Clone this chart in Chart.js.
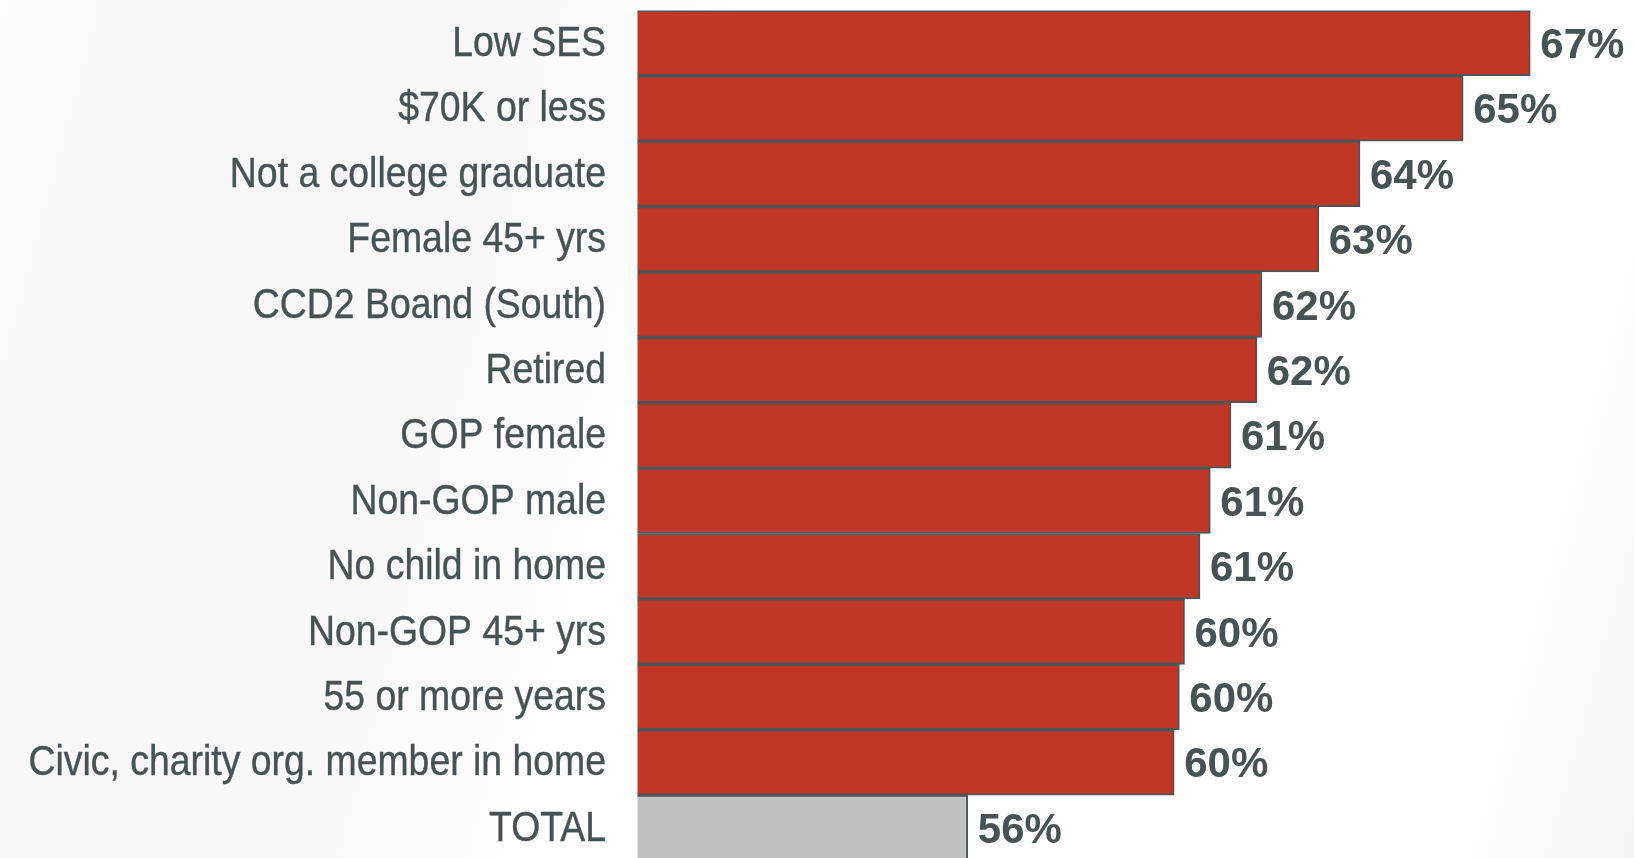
<!DOCTYPE html>
<html>
<head>
<meta charset="utf-8">
<script src="https://cdn.jsdelivr.net/npm/chart.js@4/dist/chart.umd.min.js"></script>
<style>
  html, body { margin: 0; padding: 0; overflow: hidden; background: #fff; }
  #wrap { position: relative; width: 1634px; height: 858px; overflow: hidden;
    background: linear-gradient(105deg, #fdfdfd 0%, #f6f6f6 10%, #f8f8f8 28%, #fff 42%, #fff 90%, #f4f4f4 100%); }
</style>
</head>
<body>
<div id="wrap"><canvas id="groupChart" width="1634" height="862"></canvas></div>
<script>
const groups = [
  'Low SES', '$70K or less', 'Not a college graduate', 'Female 45+ yrs',
  'CCD2 Boand (South)', 'Retired', 'GOP female', 'Non-GOP male',
  'No child in home', 'Non-GOP 45+ yrs', '55 or more years',
  'Civic, charity org. member in home', 'TOTAL'
];
// bar lengths
const shares = [67.3, 66.0, 64.0, 63.2, 62.1, 62.0, 61.5, 61.1, 60.9, 60.6, 60.5, 60.4, 56.4];
// printed percentages
const shareLabels = ['67%', '65%', '64%', '63%', '62%', '62%', '61%', '61%', '61%', '60%', '60%', '60%', '56%'];

const textColor = '#475254';

// category names in a narrow face (no Arial Narrow here, so squeeze Liberation Sans)
const narrowLabels = {
  id: 'narrowLabels',
  afterDraw(chart) {
    const ctx = chart.ctx;
    const yScale = chart.scales.y;
    ctx.save();
    ctx.font = '42px "Liberation Sans", Arial, sans-serif';
    ctx.fillStyle = textColor;
    ctx.strokeStyle = textColor;
    ctx.lineWidth = 0.4;
    ctx.textAlign = 'right';
    ctx.textBaseline = 'alphabetic';
    groups.forEach((g, i) => {
      const y = yScale.getPixelForTick(i);
      ctx.save();
      ctx.translate(606, y + 13);
      ctx.scale(0.89, 1);
      ctx.fillText(g, 0, 0);
      ctx.strokeText(g, 0, 0);
      ctx.restore();
    });
    ctx.restore();
  }
};

const valueLabels = {
  id: 'valueLabels',
  afterDatasetsDraw(chart) {
    const ctx = chart.ctx;
    const meta = chart.getDatasetMeta(0);
    ctx.save();
    ctx.font = 'bold 42px "Liberation Sans", Arial, sans-serif';
    ctx.fillStyle = textColor;
    ctx.textAlign = 'left';
    ctx.textBaseline = 'alphabetic';
    meta.data.forEach((bar, i) => {
      ctx.fillText(shareLabels[i], bar.x + 10, bar.y + 15);
    });
    ctx.restore();
  }
};

const ctx = document.getElementById('groupChart').getContext('2d');
new Chart(ctx, {
  type: 'bar',
  data: {
    labels: groups,
    datasets: [{
      data: shares,
      backgroundColor: groups.map(g => g === 'TOTAL' ? '#c0c0c0' : '#c03728'),
      borderColor: '#4d5557',
      borderWidth: 2,
      borderSkipped: false,
      categoryPercentage: 1,
      barPercentage: 1
    }]
  },
  options: {
    indexAxis: 'y',
    responsive: false,
    animation: false,
    layout: { padding: { top: 10.4, bottom: 1.5, left: 0, right: 16 } },
    plugins: {
      legend: { display: false },
      tooltip: { enabled: false }
    },
    scales: {
      x: {
        display: false,
        min: 50,
        max: 69
      },
      y: {
        afterFit(scale) { scale.width = 637.5; },
        grid: { display: false },
        border: { display: false },
        ticks: { display: false }
      }
    }
  },
  plugins: [valueLabels, narrowLabels]
});
</script>
</body>
</html>
